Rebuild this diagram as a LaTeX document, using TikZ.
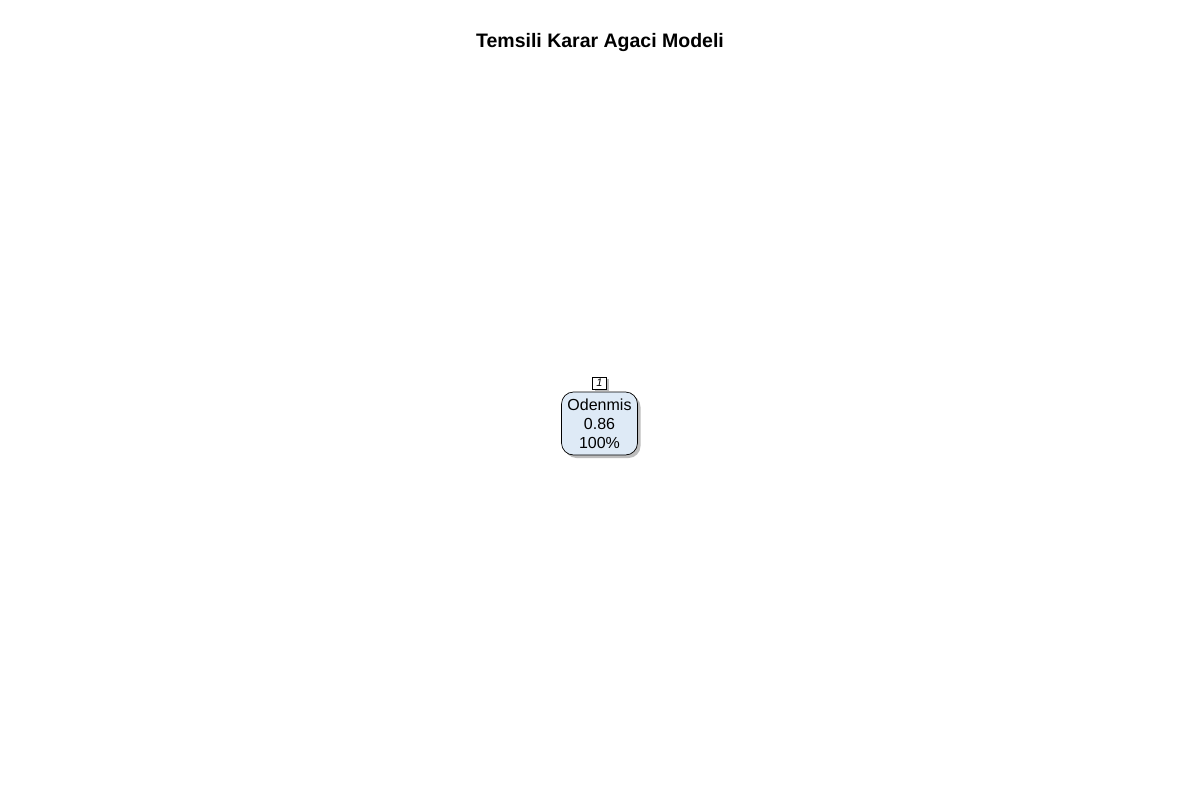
\documentclass[tikz,border=0pt]{standalone}
\usepackage{fontspec}
\setmainfont{Liberation Sans}
\newfontfamily\numfont[ItalicFont={Liberation Sans Italic}]{Liberation Sans}
\definecolor{nodefill}{HTML}{DEEAF6}
\definecolor{shadowgrey}{HTML}{BDBDBD}
\tikzset{
  treenode/.style={draw=black, fill=nodefill, rounded corners=12pt, line width=0.7pt,
    minimum width=76pt, minimum height=63pt, inner sep=0pt, align=center,
    font=\fontsize{16pt}{19pt}\selectfont},
  nodeshadow/.style={fill=shadowgrey, rounded corners=12pt, draw=none,
    minimum width=76pt, minimum height=63pt, inner sep=0pt},
  numbox/.style={draw=black, fill=white, line width=0.6pt, minimum width=14pt,
    minimum height=12pt, inner sep=0pt, font=\numfont\itshape\fontsize{11pt}{12pt}\selectfont},
  numshadow/.style={fill=shadowgrey, draw=none, minimum width=14pt,
    minimum height=12pt, inner sep=0pt},
  titlestyle/.style={font=\bfseries\fontsize{19.5pt}{22pt}\selectfont}
}
\begin{document}
\begin{tikzpicture}[x=1pt,y=-1pt]
\useasboundingbox[fill=white] (0,0) rectangle (1200,800);
\node[titlestyle] (title) at (600,42.5) {Temsili Karar Agaci Modeli};
\node[nodeshadow] (rootshadow) at (602.5,426.5) {};
\node[treenode] (root) at (599.5,423.5) {Odenmis\\0.86\\100\%};
\node[numshadow] (numshadow1) at (601.5,385) {};
\node[numbox] (num1) at (599.5,383) {1};
\end{tikzpicture}
\end{document}
